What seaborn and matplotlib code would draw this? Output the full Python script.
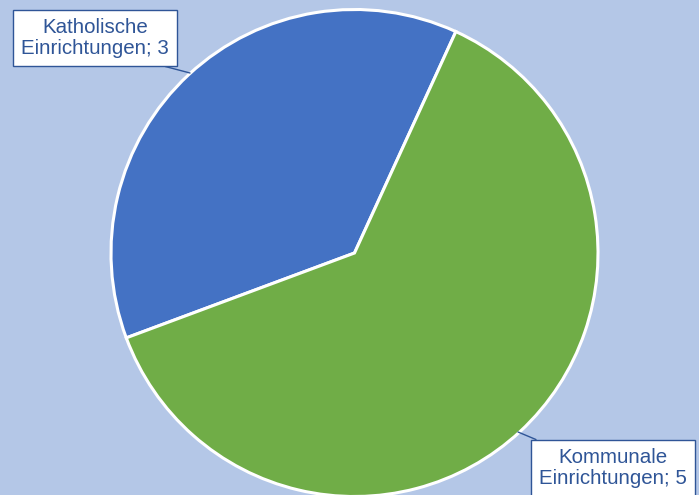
import matplotlib
matplotlib.use("Agg")
import matplotlib.pyplot as plt
import seaborn as sns

categories = ["Katholische Einrichtungen", "Kommunale Einrichtungen"]
label_lines = ["Katholische\nEinrichtungen; 3", "Kommunale\nEinrichtungen; 5"]
values = [3, 5]
colors = ["#4472C4", "#70AD47"]

sns.set_theme(style="white")
plt.rcParams["font.family"] = ["Liberation Sans", "DejaVu Sans"]

W, H = 699, 495
cx, cy, R = 354.5, 253.0, 243.5

def px(x, y):
    return ((x - cx) / R, (cy - y) / R)

fig = plt.figure(figsize=(W / 100, H / 100), dpi=100)
fig.patch.set_facecolor("#B4C7E7")
ax = fig.add_axes([0, 0, 1, 1])
ax.set_facecolor("#B4C7E7")

wedges, _ = ax.pie(values, colors=colors, startangle=65.4, counterclock=True,
                   radius=1.0, center=(0, 0),
                   wedgeprops=dict(edgecolor="white", linewidth=2.2))

x0, y0 = px(0, 0)
x1, y1 = px(W, H)
ax.set_xlim(x0, x1)
ax.set_ylim(y1, y0)
ax.set_aspect("auto")
ax.axis("off")

txtc = "#2F5597"
ann = [
    (label_lines[0], px(95, 38), px(190, 73), (0.75, 0.0)),
    (label_lines[1], px(613, 468), px(518, 432), (0.12, 1.0)),
]
for text, xytext, xy, rel in ann:
    ax.annotate(text, xy=xy, xytext=xytext, ha="center", va="center",
                fontsize=14.8, color=txtc, linespacing=1.1,
                bbox=dict(boxstyle="square,pad=0.4", fc="white", ec=txtc, lw=1.0),
                arrowprops=dict(arrowstyle="-", color=txtc, lw=1.0,
                                shrinkA=0, shrinkB=0, relpos=rel))

fig.savefig("out.png", dpi=100, facecolor=fig.get_facecolor())
